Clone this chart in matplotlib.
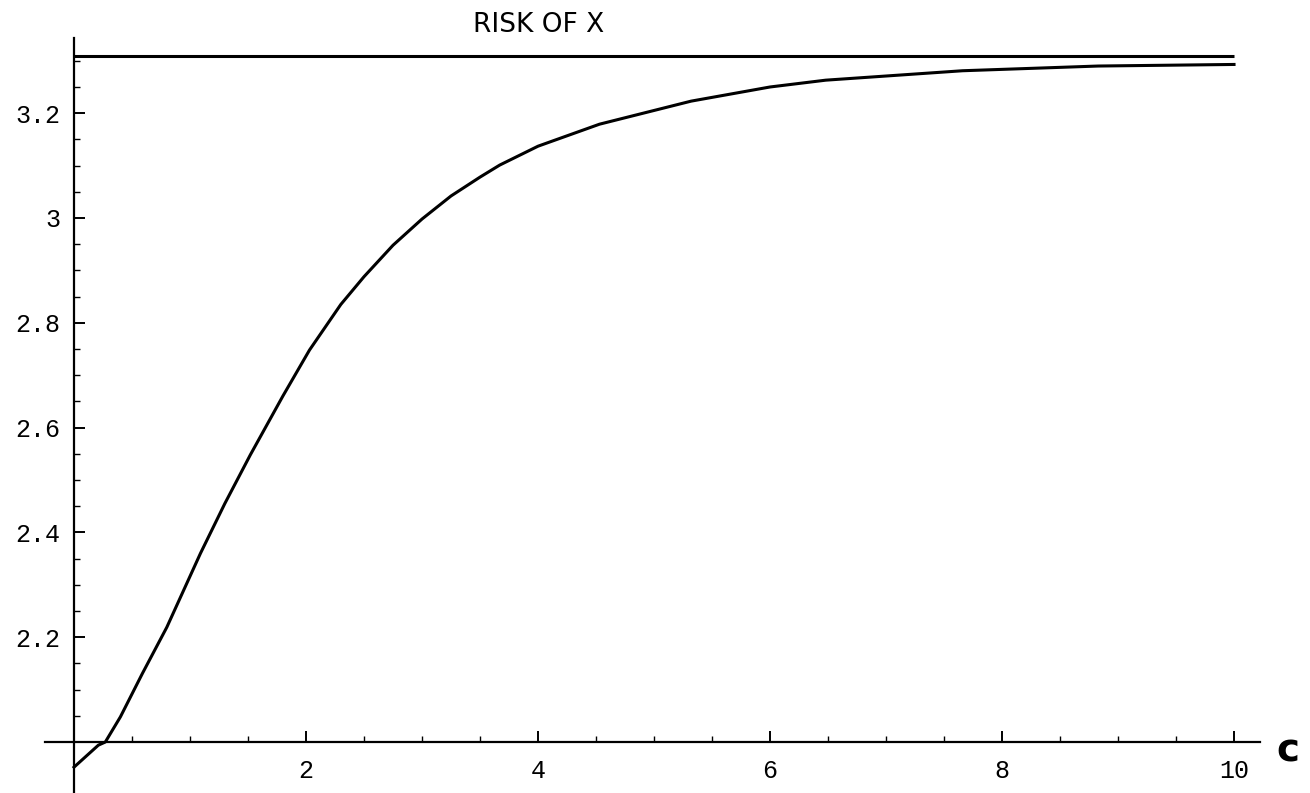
import matplotlib
matplotlib.use("Agg")
import numpy as np
import matplotlib.pyplot as plt
from matplotlib.ticker import FixedLocator

# ─── Dados ────────────────────────────────────────────────────────────────────
c_vals = [0.0, 0.21, 0.27, 0.40, 0.59, 0.80, 1.09, 1.30, 1.52, 1.80, 2.03,
          2.3, 2.5, 2.75, 3.0, 3.25, 3.5, 3.67, 4.0, 4.53, 5.32, 6.0, 6.48,
          7.66, 8.83, 10.0]
risk_vals = [1.952, 1.994, 2.0, 2.048, 2.131, 2.219, 2.36, 2.455, 2.548, 2.66,
             2.748, 2.835, 2.888, 2.948, 2.998, 3.042, 3.078, 3.101, 3.137,
             3.179, 3.223, 3.250, 3.263, 3.281, 3.290, 3.293]
risk_x = 3.31          # risco constante de X
y_ticks = [2.2, 2.4, 2.6, 2.8, 3.0, 3.2]
y_labels = ["2.2", "2.4", "2.6", "2.8", "3", "3.2"]
x_ticks = [2, 4, 6, 8, 10]
x_labels = ["2", "4", "6", "8", "10"]

fig = plt.figure(figsize=(13.1, 7.93), dpi=100)
ax = fig.add_axes([0, 0, 1, 1])
ax.set_xlim(-0.638, 10.655)
ax.set_ylim(1.9027, 3.416)

ax.plot(c_vals, risk_vals, color="black", lw=2.2, solid_joinstyle="round")
ax.hlines(risk_x, c_vals[0], c_vals[-1], color="black", lw=2.2)

# eixos no estilo Mathematica, cruzando em (0, 2)
for s in ["top", "right"]:
    ax.spines[s].set_visible(False)
ax.spines["left"].set_position(("data", 0))
ax.spines["bottom"].set_position(("data", 2.0))
ax.spines["left"].set_bounds(1.9027, 3.3435)
ax.spines["bottom"].set_bounds(-0.25, 10.22)
ax.spines["left"].set_linewidth(1.6)
ax.spines["bottom"].set_linewidth(1.6)

mono = "Liberation Mono"
ax.yaxis.set_major_locator(FixedLocator(y_ticks))
ax.set_yticklabels(y_labels, fontfamily=mono, fontsize=18)
y_minor = [v for v in np.round(np.arange(2.05, 3.31, 0.05), 2) if v not in y_ticks]
ax.yaxis.set_minor_locator(FixedLocator(y_minor))
ax.xaxis.set_major_locator(FixedLocator(x_ticks))
ax.set_xticklabels(x_labels, fontfamily=mono, fontsize=18)
x_minor = [v for v in np.arange(0.5, 10.01, 0.5) if v not in x_ticks]
ax.xaxis.set_minor_locator(FixedLocator(x_minor))

ax.tick_params(axis="y", which="major", direction="in", length=8, width=1.4, pad=10)
ax.tick_params(axis="y", which="minor", direction="in", length=4.5, width=1.0)
ax.tick_params(axis="x", which="major", direction="in", length=8, width=1.4, pad=12)
ax.tick_params(axis="x", which="minor", direction="in", length=4.5, width=1.0)

# anotações manuscritas
fig.text(539 / 1310, 1 - 25 / 793, "RISK OF X", ha="center", va="center",
         fontsize=19, fontfamily="DejaVu Sans")
fig.text(1288 / 1310, 1 - 750 / 793, "c", ha="center", va="center",
         fontsize=28, fontweight="bold", fontfamily="DejaVu Sans")

fig.savefig("out.png", dpi=100, facecolor="white")
